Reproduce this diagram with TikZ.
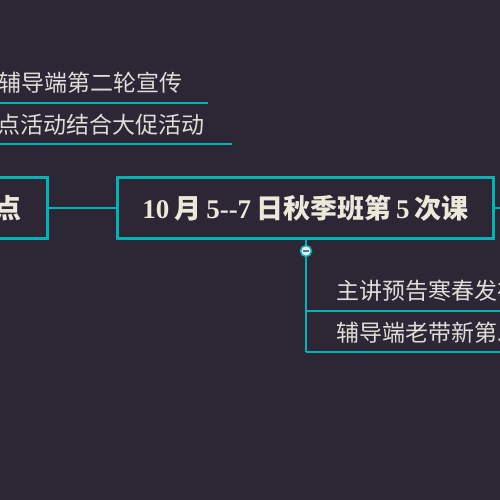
\documentclass[tikz,border=0pt]{standalone}
\usepackage{fontspec}
\setmainfont{Liberation Serif}
\newfontfamily\cjk{Noto Sans CJK SC}
\definecolor{bg}{RGB}{45,38,53}
\definecolor{teal1}{RGB}{0,180,182}
\definecolor{txt}{RGB}{222,222,216}
\definecolor{ttl}{RGB}{236,232,218}
\definecolor{minus}{RGB}{100,110,145}
\newcommand{\cg}{\hspace{5pt}}
\begin{document}
\begin{tikzpicture}[x=1pt,y=-1pt,
  conn/.style={draw=teal1,line width=2pt},
  topicbox/.style={draw=teal1,line width=3pt,inner sep=0pt,minimum height=61pt},
  subtext/.style={text=txt,inner sep=0pt,font=\cjk\fontsize{23}{28}\selectfont},
  titletext/.style={text=ttl,inner sep=0pt,font=\bfseries\fontsize{27}{30}\selectfont},
  toggle/.style={circle,draw=teal1,line width=1.5pt,fill={rgb,255:red,232;green,236;blue,240},minimum size=11pt,inner sep=0pt}]
\fill[bg] (0,0) rectangle (500,500);
\useasboundingbox (0,0) rectangle (500,500);
\begin{scope}
\clip (0,0) rectangle (500,500);
% top sub-items
\node[subtext,anchor=east] (t1) at (183,83) {辅导端第二轮宣传};
\node[subtext,anchor=east] (t2) at (205,125) {点活动结合大促活动};
\coordinate (u1a) at (-5,103); \coordinate (u1b) at (208,103);
\coordinate (u2a) at (-5,144); \coordinate (u2b) at (232,144);
\draw[conn] (u1a) -- (u1b);
\draw[conn] (u2a) -- (u2b);
% left box
\node[topicbox,minimum width=150pt] (lbox) at (-27.5,208) {};
\node[titletext,anchor=east] (ltext) at (22,208) {\cjk\bfseries 点};
% title box
\node[topicbox,minimum width=376pt,titletext] (title) at (305.5,208)
  {10\cg{\cjk\bfseries 月}\cg 5-{}-7\cg{\cjk\bfseries 日秋季班第}\cg 5\cg{\cjk\bfseries 次课}};
\draw[conn] (lbox.east) -- (title.west);
\coordinate (rend) at (505,208);
\draw[conn] (title.east) -- (rend);
% toggle and children
\node[toggle] (tog) at (306,251) {};
\draw[minus,line width=1.5pt] ([xshift=-3pt]tog.center) -- ([xshift=3pt]tog.center);
\draw[conn] (title.south -| tog) -- (tog.north);
\coordinate (vend) at (306,352);
\draw[conn] (tog.south) -- (vend);
\node[subtext,anchor=west] (s1) at (336,291) {主讲预告寒春发布};
\node[subtext,anchor=west] (s2) at (336,333) {辅导端老带新第二轮};
\coordinate (l1a) at (306,311); \coordinate (l1b) at (505,311);
\draw[conn] (l1a) -- (l1b);
\draw[conn] (vend) -- ++(199,0) coordinate (l2b);
\end{scope}
\end{tikzpicture}
\end{document}
